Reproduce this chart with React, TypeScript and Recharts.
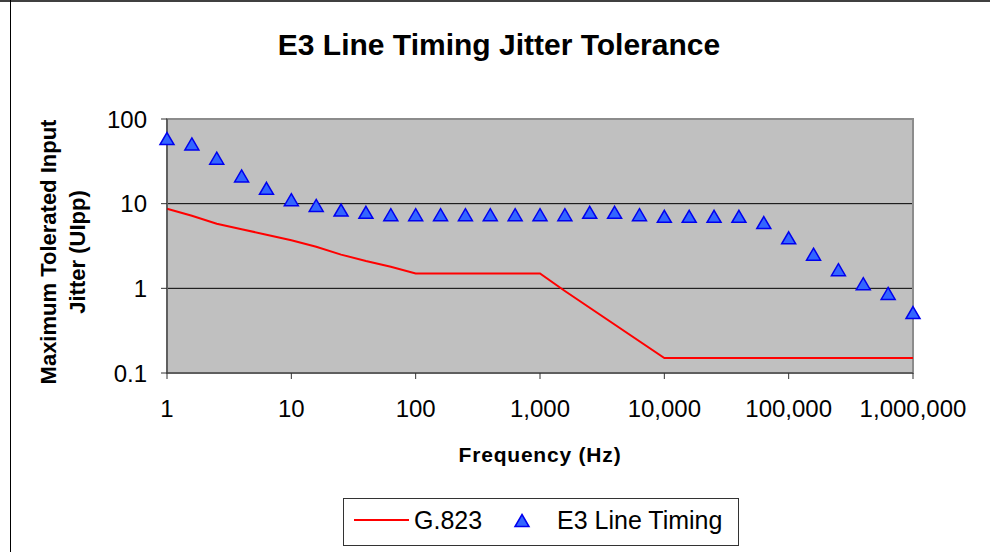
import { ComposedChart, Line, Scatter, XAxis, YAxis, CartesianGrid, ReferenceArea } from 'recharts';

// E3 line timing measurements, 5 points per decade
const e3Freq = [
    1, 1.585, 2.512, 3.981, 6.31, 10, 15.85, 25.12, 39.81, 63.1,
    100, 158.5, 251.2, 398.1, 631, 1000, 1585, 2512, 3981, 6310,
    10000, 15850, 25120, 39810, 63100, 100000, 158500, 251200, 398100, 631000,
    1000000,
];
const e3Jitter = [
    58, 50, 34, 21, 15, 11, 9.4, 8.3, 7.8, 7.3,
    7.3, 7.3, 7.3, 7.3, 7.3, 7.3, 7.3, 7.8, 7.8, 7.3,
    7.0, 7.0, 7.0, 7.0, 5.9, 3.9, 2.5, 1.64, 1.12, 0.86,
    0.51,
];

// G.823 mask
const g823Freq = [1, 1.585, 2.512, 3.981, 6.31, 10, 15.85, 25.12, 39.81, 63.1, 100, 1000, 1585, 10000, 1000000];
const g823Tol = [8.7, 7.2, 5.8, 5.0, 4.3, 3.7, 3.1, 2.5, 2.1, 1.8, 1.5, 1.5, 0.93, 0.15, 0.15];

const xTicks = [1, 10, 100, 1000, 10000, 100000, 1000000];
const yTicks = [0.1, 1, 10, 100];

const e3Data = e3Freq.map((f, i) => ({ f, v: e3Jitter[i] }));
const g823Data = g823Freq.map((f, i) => ({ f, v: g823Tol[i] }));

const FONT = '"Liberation Sans", Arial, sans-serif';

const Triangle = (props: any) => {
    const { cx, cy } = props;
    if (cx == null || cy == null) return null;
    return (
        <polygon
            points={`${cx},${cy - 6.5} ${cx + 7},${cy + 5.5} ${cx - 7},${cy + 5.5}`}
            fill="#3366FF"
            stroke="#0000EE"
            strokeWidth={1.5}
        />
    );
};

const YTitle = () => {
    const cy = 252;
    return (
        <g fontFamily={FONT} fontWeight="bold" fontSize={22} fill="#000" textAnchor="middle">
            <text x={56} y={cy} transform={`rotate(-90 56 ${cy})`}>Maximum Tolerated Input</text>
            <text x={85} y={cy} transform={`rotate(-90 85 ${cy})`}>Jitter (UIpp)</text>
        </g>
    );
};

const XTitle = (props: any) => {
    const vb = props.viewBox || {};
    return (
        <text
            x={vb.x + vb.width / 2}
            y={462}
            textAnchor="middle"
            fontFamily={FONT}
            fontWeight="bold"
            fontSize={21}
            letterSpacing={0.8}
            fill="#000"
        >
            Frequency (Hz)
        </text>
    );
};

export default function App() {
    return (
        <div style={{ position: 'absolute', left: 0, top: 0, width: 990, height: 552, background: '#fff', overflow: 'hidden' }}>
            {/* outer frame */}
            <div style={{ position: 'absolute', left: 0, top: 0, width: 990, height: 2, background: '#404040' }} />
            <div style={{ position: 'absolute', left: 10, top: 0, width: 1, height: 552, background: '#000' }} />

            <svg width={990} height={80} style={{ position: 'absolute', left: 0, top: 0 }}>
                <text x={499} y={55} textAnchor="middle" fontFamily={FONT} fontWeight="bold" fontSize={30} fill="#000">
                    E3 Line Timing Jitter Tolerance
                </text>
            </svg>

            <div style={{ position: 'absolute', left: 0, top: 0 }}>
                <ComposedChart width={990} height={552} margin={{ top: 119, right: 77, bottom: 79, left: 67 }}>
                    <CartesianGrid
                        horizontal={true}
                        vertical={false}
                        horizontalValues={[1, 10]}
                        fill="#C0C0C0"
                        fillOpacity={1}
                        stroke="#000"
                    />
                    <XAxis
                        dataKey="f"
                        type="number"
                        scale="log"
                        domain={[1, 1000000]}
                        ticks={xTicks}
                        height={100}
                        stroke="#333"
                        tickSize={6}
                        tickMargin={21}
                        tick={{ fill: '#000', fontSize: 24, fontFamily: FONT }}
                        tickFormatter={(v) => Number(v).toLocaleString('en-US')}
                        label={<XTitle />}
                    />
                    <YAxis
                        dataKey="v"
                        type="number"
                        scale="log"
                        domain={[0.1, 100]}
                        ticks={yTicks}
                        width={100}
                        stroke="#333"
                        tickSize={6}
                        tickMargin={14}
                        tick={{ fill: '#000', fontSize: 24, fontFamily: FONT }}
                        tickFormatter={(v) => String(v)}
                        label={<YTitle />}
                    />
                    <ReferenceArea x1={1} x2={1000000} y1={0.1} y2={100} fill="none" stroke="#8C8C8C" strokeWidth={2} />
                    <Line
                        data={g823Data}
                        dataKey="v"
                        type="linear"
                        stroke="#FF0000"
                        strokeWidth={2}
                        dot={false}
                        isAnimationActive={false}
                    />
                    <Scatter data={e3Data} dataKey="v" shape={<Triangle />} isAnimationActive={false} />
                </ComposedChart>
            </div>

            {/* legend */}
            <div
                style={{
                    position: 'absolute',
                    left: 343,
                    top: 498,
                    width: 394,
                    height: 46,
                    border: '1px solid #333',
                }}
            >
                <svg width={394} height={46} style={{ position: 'absolute', left: 0, top: 0 }}>
                    <line x1={10} y1={21} x2={65} y2={21} stroke="#FF0000" strokeWidth={2} />
                    <text x={70} y={30} fontFamily={FONT} fontSize={25} fill="#000">G.823</text>
                    <Triangle cx={178} cy={22} />
                    <text x={213} y={30} fontFamily={FONT} fontSize={25} fill="#000">E3 Line Timing</text>
                </svg>
            </div>
        </div>
    );
}
